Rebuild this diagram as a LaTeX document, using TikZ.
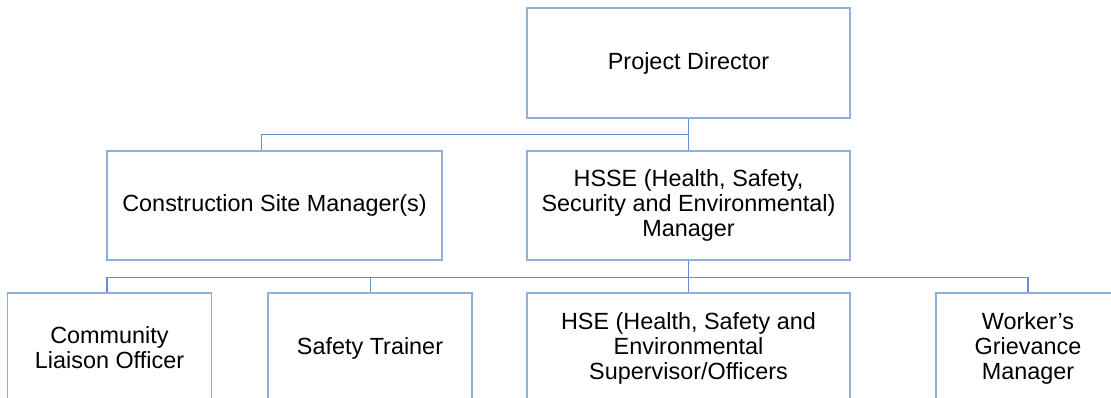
\documentclass[tikz,border=0pt]{standalone}
\usepackage{fontspec}
\setmainfont{Liberation Sans}
\usetikzlibrary{calc}
\definecolor{boxline}{RGB}{143,176,222}
\definecolor{connline}{RGB}{98,143,212}
\tikzset{
  orgbox/.style={draw=boxline, line width=1.2pt, fill=white, rectangle, inner sep=0pt,
    align=center, font=\fontsize{23.4}{25}\selectfont},
  conn/.style={draw=connline, line width=1.2pt}
}
\begin{document}
\begin{tikzpicture}[x=1pt,y=-1pt]
\useasboundingbox (0,0) rectangle (1111,398);
\clip (0,0) rectangle (1111,398);
\fill[white] (0,0) rectangle (1111,398);
\node[orgbox, minimum width=323pt, minimum height=110pt] (PD) at (688.5,63) {Project Director};
\node[orgbox, minimum width=335pt, minimum height=109pt] (CSM) at (274.5,205.5) {Construction Site Manager(s)};
\node[orgbox, minimum width=323pt, minimum height=109pt] (HSSE) at (688.5,205.5) {HSSE (Health, Safety,\\Security and Environmental)\\Manager};
\node[orgbox, minimum width=204pt, minimum height=110pt] (CLO) at (109.5,348) {Community\\Liaison Officer};
\node[orgbox, minimum width=204pt, minimum height=110pt] (ST) at (370,348) {Safety Trainer};
\node[orgbox, minimum width=323pt, minimum height=110pt] (HSE) at (688.5,348) {HSE (Health, Safety and\\Environmental\\Supervisor/Officers};
\node[orgbox, minimum width=184pt, minimum height=110pt] (WGM) at (1028,348) {Worker’s\\Grievance\\Manager};
\coordinate (b1) at ($(PD.south)+(0,16)$);
\coordinate (b2) at ($(HSSE.south)+(0,17)$);
\draw[conn] (PD.south) -- (HSSE.north);
\draw[conn] (b1) -| ($(CSM.north west)+(155,0)$);
\draw[conn] (HSSE.south) -- (HSE.north);
\draw[conn] (b2) -| ($(CLO.north west)+(100,0)$);
\draw[conn] (b2) -| ($(ST.north west)+(103,0)$);
\draw[conn] (b2) -| (WGM.north);
\end{tikzpicture}
\end{document}
